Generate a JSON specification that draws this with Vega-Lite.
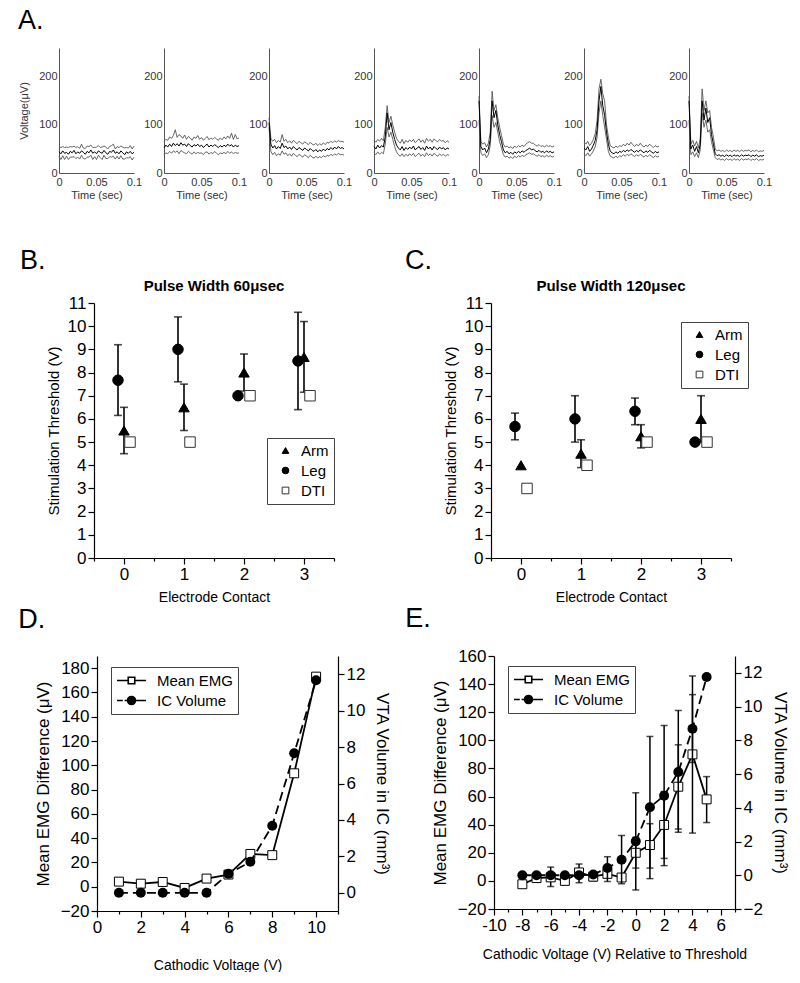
{
"$schema": "https://vega.github.io/schema/vega-lite/v6.json",
"background": "white",
"padding": {"left": 0, "top": 7, "right": 0, "bottom": 0},
"datasets": {
"emg": [
{"p":"-1V","t":0,"m":44,"h":54,"l":35},{"p":"-1V","t":0.0025,"m":40,"h":53,"l":28},{"p":"-1V","t":0.005,"m":46,"h":55,"l":36},{"p":"-1V","t":0.0075,"m":41,"h":53,"l":28},{"p":"-1V","t":0.01,"m":43,"h":54,"l":35},{"p":"-1V","t":0.0125,"m":39,"h":53,"l":28},{"p":"-1V","t":0.015,"m":45,"h":55,"l":33},{"p":"-1V","t":0.0175,"m":42,"h":54,"l":33},{"p":"-1V","t":0.02,"m":47,"h":56,"l":34},{"p":"-1V","t":0.0225,"m":40,"h":53,"l":30},{"p":"-1V","t":0.025,"m":44,"h":55,"l":33},{"p":"-1V","t":0.0275,"m":41,"h":51,"l":29},{"p":"-1V","t":0.03,"m":46,"h":60,"l":37},{"p":"-1V","t":0.0325,"m":43,"h":52,"l":30},{"p":"-1V","t":0.035,"m":39,"h":51,"l":29},{"p":"-1V","t":0.0375,"m":45,"h":56,"l":33},{"p":"-1V","t":0.04,"m":42,"h":55,"l":33},{"p":"-1V","t":0.0425,"m":48,"h":58,"l":37},{"p":"-1V","t":0.045,"m":41,"h":53,"l":28},{"p":"-1V","t":0.0475,"m":44,"h":53,"l":34},{"p":"-1V","t":0.05,"m":40,"h":54,"l":28},{"p":"-1V","t":0.0525,"m":46,"h":57,"l":37},{"p":"-1V","t":0.055,"m":43,"h":53,"l":32},{"p":"-1V","t":0.0575,"m":41,"h":54,"l":28},{"p":"-1V","t":0.06,"m":47,"h":56,"l":37},{"p":"-1V","t":0.0625,"m":42,"h":54,"l":30},{"p":"-1V","t":0.065,"m":39,"h":50,"l":30},{"p":"-1V","t":0.0675,"m":45,"h":55,"l":34},{"p":"-1V","t":0.07,"m":43,"h":57,"l":33},{"p":"-1V","t":0.0725,"m":48,"h":60,"l":35},{"p":"-1V","t":0.075,"m":41,"h":50,"l":29},{"p":"-1V","t":0.0775,"m":44,"h":55,"l":35},{"p":"-1V","t":0.08,"m":40,"h":53,"l":29},{"p":"-1V","t":0.0825,"m":46,"h":56,"l":36},{"p":"-1V","t":0.085,"m":42,"h":54,"l":29},{"p":"-1V","t":0.0875,"m":38,"h":52,"l":29},{"p":"-1V","t":0.09,"m":44,"h":53,"l":32},{"p":"-1V","t":0.0925,"m":41,"h":52,"l":31},{"p":"-1V","t":0.095,"m":45,"h":57,"l":34},{"p":"-1V","t":0.0975,"m":40,"h":50,"l":27},{"p":"-1V","t":0.1,"m":43,"h":56,"l":33},
{"p":"-2V","t":0,"m":52,"h":66,"l":38},{"p":"-2V","t":0.0025,"m":58,"h":70,"l":42},{"p":"-2V","t":0.005,"m":54,"h":68,"l":40},{"p":"-2V","t":0.0075,"m":60,"h":75,"l":45},{"p":"-2V","t":0.01,"m":55,"h":72,"l":41},{"p":"-2V","t":0.0125,"m":62,"h":78,"l":46},{"p":"-2V","t":0.015,"m":57,"h":90,"l":43},{"p":"-2V","t":0.0175,"m":61,"h":74,"l":46},{"p":"-2V","t":0.02,"m":56,"h":80,"l":40},{"p":"-2V","t":0.0225,"m":63,"h":77,"l":47},{"p":"-2V","t":0.025,"m":58,"h":72,"l":44},{"p":"-2V","t":0.0275,"m":60,"h":79,"l":42},{"p":"-2V","t":0.03,"m":55,"h":70,"l":40},{"p":"-2V","t":0.0325,"m":61,"h":76,"l":45},{"p":"-2V","t":0.035,"m":57,"h":73,"l":42},{"p":"-2V","t":0.0375,"m":54,"h":68,"l":39},{"p":"-2V","t":0.04,"m":59,"h":75,"l":44},{"p":"-2V","t":0.0425,"m":56,"h":72,"l":40},{"p":"-2V","t":0.045,"m":60,"h":78,"l":43},{"p":"-2V","t":0.0475,"m":55,"h":70,"l":41},{"p":"-2V","t":0.05,"m":58,"h":74,"l":42},{"p":"-2V","t":0.0525,"m":53,"h":68,"l":38},{"p":"-2V","t":0.055,"m":57,"h":72,"l":43},{"p":"-2V","t":0.0575,"m":60,"h":76,"l":44},{"p":"-2V","t":0.06,"m":54,"h":69,"l":39},{"p":"-2V","t":0.0625,"m":58,"h":73,"l":43},{"p":"-2V","t":0.065,"m":55,"h":70,"l":40},{"p":"-2V","t":0.0675,"m":59,"h":74,"l":45},{"p":"-2V","t":0.07,"m":56,"h":71,"l":41},{"p":"-2V","t":0.0725,"m":53,"h":68,"l":38},{"p":"-2V","t":0.075,"m":57,"h":73,"l":42},{"p":"-2V","t":0.0775,"m":54,"h":69,"l":40},{"p":"-2V","t":0.08,"m":58,"h":75,"l":43},{"p":"-2V","t":0.0825,"m":55,"h":71,"l":40},{"p":"-2V","t":0.085,"m":60,"h":77,"l":45},{"p":"-2V","t":0.0875,"m":56,"h":72,"l":41},{"p":"-2V","t":0.09,"m":59,"h":83,"l":44},{"p":"-2V","t":0.0925,"m":54,"h":70,"l":40},{"p":"-2V","t":0.095,"m":58,"h":80,"l":43},{"p":"-2V","t":0.0975,"m":55,"h":71,"l":41},{"p":"-2V","t":0.1,"m":57,"h":73,"l":42},
{"p":"-3V","t":0,"m":105,"h":115,"l":95},{"p":"-3V","t":0.0025,"m":60,"h":72,"l":45},{"p":"-3V","t":0.005,"m":52,"h":66,"l":38},{"p":"-3V","t":0.0075,"m":57,"h":70,"l":43},{"p":"-3V","t":0.01,"m":50,"h":63,"l":36},{"p":"-3V","t":0.0125,"m":55,"h":68,"l":40},{"p":"-3V","t":0.015,"m":51,"h":64,"l":37},{"p":"-3V","t":0.0175,"m":62,"h":80,"l":46},{"p":"-3V","t":0.02,"m":53,"h":66,"l":39},{"p":"-3V","t":0.0225,"m":56,"h":70,"l":42},{"p":"-3V","t":0.025,"m":50,"h":63,"l":36},{"p":"-3V","t":0.0275,"m":54,"h":67,"l":40},{"p":"-3V","t":0.03,"m":49,"h":62,"l":35},{"p":"-3V","t":0.0325,"m":55,"h":68,"l":41},{"p":"-3V","t":0.035,"m":51,"h":64,"l":37},{"p":"-3V","t":0.0375,"m":48,"h":61,"l":34},{"p":"-3V","t":0.04,"m":53,"h":66,"l":39},{"p":"-3V","t":0.0425,"m":50,"h":63,"l":36},{"p":"-3V","t":0.045,"m":47,"h":60,"l":33},{"p":"-3V","t":0.0475,"m":52,"h":65,"l":38},{"p":"-3V","t":0.05,"m":49,"h":62,"l":35},{"p":"-3V","t":0.0525,"m":46,"h":59,"l":32},{"p":"-3V","t":0.055,"m":51,"h":64,"l":37},{"p":"-3V","t":0.0575,"m":47,"h":60,"l":33},{"p":"-3V","t":0.06,"m":45,"h":58,"l":31},{"p":"-3V","t":0.0625,"m":49,"h":62,"l":35},{"p":"-3V","t":0.065,"m":44,"h":57,"l":31},{"p":"-3V","t":0.0675,"m":48,"h":61,"l":34},{"p":"-3V","t":0.07,"m":45,"h":58,"l":32},{"p":"-3V","t":0.0725,"m":50,"h":63,"l":36},{"p":"-3V","t":0.075,"m":46,"h":59,"l":33},{"p":"-3V","t":0.0775,"m":51,"h":64,"l":37},{"p":"-3V","t":0.08,"m":48,"h":62,"l":35},{"p":"-3V","t":0.0825,"m":53,"h":66,"l":39},{"p":"-3V","t":0.085,"m":49,"h":63,"l":36},{"p":"-3V","t":0.0875,"m":54,"h":67,"l":40},{"p":"-3V","t":0.09,"m":50,"h":64,"l":37},{"p":"-3V","t":0.0925,"m":55,"h":68,"l":41},{"p":"-3V","t":0.095,"m":51,"h":65,"l":38},{"p":"-3V","t":0.0975,"m":53,"h":66,"l":39},{"p":"-3V","t":0.1,"m":50,"h":64,"l":37},
{"p":"-4V","t":0,"m":55,"h":68,"l":42},{"p":"-4V","t":0.0025,"m":50,"h":64,"l":38},{"p":"-4V","t":0.005,"m":58,"h":70,"l":44},{"p":"-4V","t":0.0075,"m":52,"h":66,"l":39},{"p":"-4V","t":0.01,"m":57,"h":72,"l":43},{"p":"-4V","t":0.0125,"m":54,"h":67,"l":40},{"p":"-4V","t":0.015,"m":75,"h":95,"l":60},{"p":"-4V","t":0.0175,"m":125,"h":140,"l":95},{"p":"-4V","t":0.02,"m":90,"h":105,"l":75},{"p":"-4V","t":0.0225,"m":105,"h":118,"l":85},{"p":"-4V","t":0.025,"m":85,"h":100,"l":70},{"p":"-4V","t":0.0275,"m":70,"h":85,"l":55},{"p":"-4V","t":0.03,"m":58,"h":72,"l":44},{"p":"-4V","t":0.0325,"m":52,"h":66,"l":38},{"p":"-4V","t":0.035,"m":48,"h":62,"l":35},{"p":"-4V","t":0.0375,"m":55,"h":70,"l":40},{"p":"-4V","t":0.04,"m":47,"h":61,"l":34},{"p":"-4V","t":0.0425,"m":53,"h":68,"l":39},{"p":"-4V","t":0.045,"m":49,"h":64,"l":35},{"p":"-4V","t":0.0475,"m":54,"h":69,"l":40},{"p":"-4V","t":0.05,"m":50,"h":65,"l":36},{"p":"-4V","t":0.0525,"m":56,"h":70,"l":41},{"p":"-4V","t":0.055,"m":48,"h":63,"l":34},{"p":"-4V","t":0.0575,"m":52,"h":67,"l":38},{"p":"-4V","t":0.06,"m":55,"h":71,"l":41},{"p":"-4V","t":0.0625,"m":49,"h":64,"l":35},{"p":"-4V","t":0.065,"m":53,"h":69,"l":39},{"p":"-4V","t":0.0675,"m":47,"h":62,"l":34},{"p":"-4V","t":0.07,"m":56,"h":72,"l":42},{"p":"-4V","t":0.0725,"m":50,"h":66,"l":36},{"p":"-4V","t":0.075,"m":54,"h":70,"l":40},{"p":"-4V","t":0.0775,"m":48,"h":64,"l":35},{"p":"-4V","t":0.08,"m":55,"h":71,"l":41},{"p":"-4V","t":0.0825,"m":51,"h":67,"l":37},{"p":"-4V","t":0.085,"m":49,"h":65,"l":35},{"p":"-4V","t":0.0875,"m":54,"h":70,"l":40},{"p":"-4V","t":0.09,"m":50,"h":66,"l":36},{"p":"-4V","t":0.0925,"m":53,"h":68,"l":39},{"p":"-4V","t":0.095,"m":48,"h":63,"l":35},{"p":"-4V","t":0.0975,"m":52,"h":67,"l":38},{"p":"-4V","t":0.1,"m":50,"h":64,"l":37},
{"p":"-5V","t":0,"m":150,"h":160,"l":110},{"p":"-5V","t":0.0025,"m":55,"h":65,"l":42},{"p":"-5V","t":0.005,"m":48,"h":60,"l":36},{"p":"-5V","t":0.0075,"m":52,"h":63,"l":40},{"p":"-5V","t":0.01,"m":42,"h":54,"l":32},{"p":"-5V","t":0.0125,"m":50,"h":62,"l":38},{"p":"-5V","t":0.015,"m":70,"h":85,"l":58},{"p":"-5V","t":0.0175,"m":150,"h":170,"l":120},{"p":"-5V","t":0.02,"m":115,"h":130,"l":95},{"p":"-5V","t":0.0225,"m":130,"h":142,"l":105},{"p":"-5V","t":0.025,"m":100,"h":115,"l":85},{"p":"-5V","t":0.0275,"m":80,"h":95,"l":65},{"p":"-5V","t":0.03,"m":65,"h":78,"l":52},{"p":"-5V","t":0.0325,"m":48,"h":60,"l":38},{"p":"-5V","t":0.035,"m":42,"h":54,"l":33},{"p":"-5V","t":0.0375,"m":45,"h":56,"l":35},{"p":"-5V","t":0.04,"m":40,"h":52,"l":31},{"p":"-5V","t":0.0425,"m":43,"h":55,"l":34},{"p":"-5V","t":0.045,"m":39,"h":51,"l":30},{"p":"-5V","t":0.0475,"m":44,"h":56,"l":35},{"p":"-5V","t":0.05,"m":41,"h":53,"l":32},{"p":"-5V","t":0.0525,"m":45,"h":57,"l":36},{"p":"-5V","t":0.055,"m":42,"h":54,"l":33},{"p":"-5V","t":0.0575,"m":46,"h":58,"l":37},{"p":"-5V","t":0.06,"m":43,"h":55,"l":34},{"p":"-5V","t":0.0625,"m":47,"h":60,"l":38},{"p":"-5V","t":0.065,"m":49,"h":63,"l":40},{"p":"-5V","t":0.0675,"m":52,"h":65,"l":42},{"p":"-5V","t":0.07,"m":48,"h":62,"l":39},{"p":"-5V","t":0.0725,"m":50,"h":62,"l":40},{"p":"-5V","t":0.075,"m":46,"h":58,"l":37},{"p":"-5V","t":0.0775,"m":44,"h":56,"l":35},{"p":"-5V","t":0.08,"m":47,"h":59,"l":38},{"p":"-5V","t":0.0825,"m":43,"h":55,"l":34},{"p":"-5V","t":0.085,"m":45,"h":57,"l":36},{"p":"-5V","t":0.0875,"m":42,"h":54,"l":33},{"p":"-5V","t":0.09,"m":46,"h":58,"l":37},{"p":"-5V","t":0.0925,"m":43,"h":55,"l":34},{"p":"-5V","t":0.095,"m":45,"h":57,"l":36},{"p":"-5V","t":0.0975,"m":42,"h":54,"l":33},{"p":"-5V","t":0.1,"m":44,"h":56,"l":35},
{"p":"-6V","t":0,"m":52,"h":64,"l":40},{"p":"-6V","t":0.0025,"m":48,"h":60,"l":36},{"p":"-6V","t":0.005,"m":55,"h":66,"l":42},{"p":"-6V","t":0.0075,"m":45,"h":57,"l":35},{"p":"-6V","t":0.01,"m":50,"h":62,"l":40},{"p":"-6V","t":0.0125,"m":58,"h":70,"l":46},{"p":"-6V","t":0.015,"m":68,"h":82,"l":55},{"p":"-6V","t":0.0175,"m":90,"h":110,"l":75},{"p":"-6V","t":0.02,"m":150,"h":175,"l":125},{"p":"-6V","t":0.0225,"m":180,"h":195,"l":150},{"p":"-6V","t":0.025,"m":140,"h":165,"l":120},{"p":"-6V","t":0.0275,"m":120,"h":150,"l":95},{"p":"-6V","t":0.03,"m":85,"h":100,"l":70},{"p":"-6V","t":0.0325,"m":60,"h":75,"l":45},{"p":"-6V","t":0.035,"m":45,"h":57,"l":35},{"p":"-6V","t":0.0375,"m":42,"h":54,"l":33},{"p":"-6V","t":0.04,"m":40,"h":52,"l":31},{"p":"-6V","t":0.0425,"m":44,"h":56,"l":35},{"p":"-6V","t":0.045,"m":41,"h":53,"l":32},{"p":"-6V","t":0.0475,"m":45,"h":57,"l":36},{"p":"-6V","t":0.05,"m":43,"h":55,"l":34},{"p":"-6V","t":0.0525,"m":47,"h":60,"l":38},{"p":"-6V","t":0.055,"m":44,"h":56,"l":35},{"p":"-6V","t":0.0575,"m":48,"h":62,"l":39},{"p":"-6V","t":0.06,"m":45,"h":58,"l":36},{"p":"-6V","t":0.0625,"m":49,"h":64,"l":40},{"p":"-6V","t":0.065,"m":46,"h":59,"l":37},{"p":"-6V","t":0.0675,"m":43,"h":55,"l":34},{"p":"-6V","t":0.07,"m":47,"h":60,"l":38},{"p":"-6V","t":0.0725,"m":44,"h":56,"l":35},{"p":"-6V","t":0.075,"m":48,"h":62,"l":39},{"p":"-6V","t":0.0775,"m":45,"h":57,"l":36},{"p":"-6V","t":0.08,"m":42,"h":54,"l":33},{"p":"-6V","t":0.0825,"m":46,"h":58,"l":37},{"p":"-6V","t":0.085,"m":43,"h":55,"l":34},{"p":"-6V","t":0.0875,"m":47,"h":60,"l":38},{"p":"-6V","t":0.09,"m":44,"h":56,"l":35},{"p":"-6V","t":0.0925,"m":41,"h":53,"l":32},{"p":"-6V","t":0.095,"m":45,"h":57,"l":36},{"p":"-6V","t":0.0975,"m":42,"h":54,"l":33},{"p":"-6V","t":0.1,"m":44,"h":56,"l":35},
{"p":"-7V","t":0,"m":150,"h":160,"l":110},{"p":"-7V","t":0.0025,"m":50,"h":60,"l":38},{"p":"-7V","t":0.005,"m":58,"h":68,"l":44},{"p":"-7V","t":0.0075,"m":45,"h":56,"l":34},{"p":"-7V","t":0.01,"m":55,"h":66,"l":42},{"p":"-7V","t":0.0125,"m":42,"h":52,"l":32},{"p":"-7V","t":0.015,"m":60,"h":72,"l":48},{"p":"-7V","t":0.0175,"m":150,"h":175,"l":125},{"p":"-7V","t":0.02,"m":110,"h":130,"l":95},{"p":"-7V","t":0.0225,"m":135,"h":150,"l":110},{"p":"-7V","t":0.025,"m":105,"h":125,"l":85},{"p":"-7V","t":0.0275,"m":115,"h":130,"l":90},{"p":"-7V","t":0.03,"m":80,"h":95,"l":65},{"p":"-7V","t":0.0325,"m":60,"h":75,"l":48},{"p":"-7V","t":0.035,"m":40,"h":50,"l":32},{"p":"-7V","t":0.0375,"m":36,"h":46,"l":28},{"p":"-7V","t":0.04,"m":38,"h":48,"l":30},{"p":"-7V","t":0.0425,"m":35,"h":45,"l":27},{"p":"-7V","t":0.045,"m":37,"h":47,"l":29},{"p":"-7V","t":0.0475,"m":34,"h":44,"l":26},{"p":"-7V","t":0.05,"m":38,"h":48,"l":30},{"p":"-7V","t":0.0525,"m":35,"h":45,"l":27},{"p":"-7V","t":0.055,"m":37,"h":47,"l":29},{"p":"-7V","t":0.0575,"m":34,"h":44,"l":26},{"p":"-7V","t":0.06,"m":38,"h":48,"l":30},{"p":"-7V","t":0.0625,"m":35,"h":45,"l":27},{"p":"-7V","t":0.065,"m":37,"h":47,"l":29},{"p":"-7V","t":0.0675,"m":34,"h":44,"l":26},{"p":"-7V","t":0.07,"m":38,"h":48,"l":30},{"p":"-7V","t":0.0725,"m":35,"h":45,"l":27},{"p":"-7V","t":0.075,"m":37,"h":47,"l":29},{"p":"-7V","t":0.0775,"m":36,"h":46,"l":28},{"p":"-7V","t":0.08,"m":38,"h":48,"l":30},{"p":"-7V","t":0.0825,"m":34,"h":44,"l":26},{"p":"-7V","t":0.085,"m":37,"h":47,"l":29},{"p":"-7V","t":0.0875,"m":35,"h":45,"l":27},{"p":"-7V","t":0.09,"m":38,"h":48,"l":30},{"p":"-7V","t":0.0925,"m":34,"h":44,"l":26},{"p":"-7V","t":0.095,"m":36,"h":46,"l":28},{"p":"-7V","t":0.0975,"m":35,"h":45,"l":27},{"p":"-7V","t":0.1,"m":37,"h":47,"l":29}
],
"thrB": [
{"type":"Arm","x":0,"v":5.5,"lo":4.5,"hi":6.5},{"type":"Arm","x":1,"v":6.5,"lo":5.5,"hi":7.5},{"type":"Arm","x":2,"v":8,"lo":7.2,"hi":8.8},{"type":"Arm","x":3,"v":8.67,"lo":7.15,"hi":10.2},
{"type":"Leg","x":-0.1,"v":7.67,"lo":6.15,"hi":9.2},{"type":"Leg","x":0.9,"v":9,"lo":7.6,"hi":10.4},{"type":"Leg","x":1.9,"v":7},{"type":"Leg","x":2.9,"v":8.5,"lo":6.4,"hi":10.6},
{"type":"DTI","x":0.1,"v":5},{"type":"DTI","x":1.1,"v":5},{"type":"DTI","x":2.1,"v":7},{"type":"DTI","x":3.1,"v":7}
],
"thrC": [
{"type":"Arm","x":0,"v":4},{"type":"Arm","x":1,"v":4.5,"lo":3.9,"hi":5.1},{"type":"Arm","x":2,"v":5.25,"lo":4.75,"hi":5.75},{"type":"Arm","x":3,"v":6,"lo":5,"hi":7},
{"type":"Leg","x":-0.1,"v":5.67,"lo":5.1,"hi":6.25},{"type":"Leg","x":0.9,"v":6,"lo":5,"hi":7},{"type":"Leg","x":1.9,"v":6.33,"lo":5.75,"hi":6.9},{"type":"Leg","x":2.9,"v":5},
{"type":"DTI","x":0.1,"v":3},{"type":"DTI","x":1.1,"v":4},{"type":"DTI","x":2.1,"v":5},{"type":"DTI","x":3.1,"v":5}
],
"dD": [
{"x":1,"emg":4.2,"ic":0},{"x":2,"emg":2.5,"ic":0},{"x":3,"emg":3.9,"ic":0},{"x":4,"emg":-1,"ic":0},{"x":5,"emg":6.7,"ic":0},{"x":6,"emg":10,"ic":1.04},{"x":7,"emg":27,"ic":1.7},{"x":8,"emg":26,"ic":3.68},{"x":9,"emg":93.4,"ic":7.66},{"x":10,"emg":173,"ic":11.67}
],
"dE": [
{"x":-8,"emg":-2.4,"ic":0},{"x":-7,"emg":2,"ic":0},{"x":-6,"emg":2.5,"elo":-4,"ehi":9.8,"ic":0},{"x":-5,"emg":0,"ic":0},{"x":-4,"emg":6,"elo":-1.3,"ehi":12,"ic":0},{"x":-3,"emg":3,"elo":0,"ehi":6,"ic":0.05},{"x":-2,"emg":5,"ic":0.43,"ilo":-0.37,"ihi":1.1},{"x":-1,"emg":2.4,"ic":0.92,"ilo":-0.5,"ihi":2.36},{"x":0,"emg":20,"elo":9.1,"ehi":31,"ic":2.01,"ilo":-0.87,"ihi":4.89},{"x":1,"emg":25.5,"elo":9.1,"ehi":40.7,"ic":4.03,"ilo":-0.2,"ihi":8.23},{"x":2,"emg":39.8,"elo":16,"ehi":63.6,"ic":4.72,"ilo":0.57,"ihi":8.88},{"x":3,"emg":67,"elo":36.9,"ehi":96.8,"ic":6.12,"ilo":2.55,"ihi":9.77},{"x":4,"emg":90,"elo":34,"ehi":145.8,"ic":8.69,"ilo":6.69,"ihi":10.71},{"x":5,"emg":58,"elo":41.5,"ehi":74.2,"ic":11.76}
]
},
"columns": 1,
"align": "none",
"spacing": 47,
"resolve": {"scale": {"shape": "independent", "fill": "independent", "stroke": "independent"}, "legend": {"shape": "independent", "fill": "independent", "stroke": "independent"}},
"concat": [
{
"title": {"text": "A.", "anchor": "start", "fontSize": 27, "offset": 13, "dx": 18},
"spacing": 1,
"hconcat": [
{"width":17,"height":10,"data":{"values":[]},"mark":"point"},
{"width":75,"height":125,"data":{"name":"emg"},"transform":[{"filter":"datum.p=='-1V'"}],
 "encoding":{"x":{"field":"t","type":"quantitative","scale":{"domain":[0,0.1]},"axis":{"values":[0,0.05,0.1],"format":"~g","title":"Time (sec)","ticks":false,"labelPadding":3,"titlePadding":2,"labelFont":"Liberation Sans","labelFontSize":11,"titleFontSize":11,"labelColor":"#333","titleColor":"#333","domainColor":"#555","domainWidth":1}}},
 "layer":[
 {"mark":{"type":"line","color":"#555","strokeWidth":0.9},"encoding":{"y":{"field":"h","type":"quantitative","title":"Voltage(μV)","scale":{"domain":[0,250]},"axis":{"values":[0,100,200],"ticks":false,"labelPadding":2,"titlePadding":9,"labelFont":"Liberation Sans","labelFontSize":11,"titleFontSize":11,"labelColor":"#333","titleColor":"#333","domainColor":"#555","domainWidth":1}}}},
 {"mark":{"type":"line","color":"#555","strokeWidth":0.9},"encoding":{"y":{"field":"l","type":"quantitative","title":"Voltage(μV)"}}},
 {"mark":{"type":"line","color":"#000","strokeWidth":1},"encoding":{"y":{"field":"m","type":"quantitative","title":"Voltage(μV)"}}},
 {"data":{"values":[{"p":"-1V"}]},"mark":{"type":"text","fontSize":11,"color":"#333","font":"Liberation Sans"},"encoding":{"x":{"datum":0.066},"y":{"datum":229},"text":{"field":"p"}}}
 ]},
{"width":75,"height":125,"data":{"name":"emg"},"transform":[{"filter":"datum.p=='-2V'"}],
 "encoding":{"x":{"field":"t","type":"quantitative","scale":{"domain":[0,0.1]},"axis":{"values":[0,0.05,0.1],"format":"~g","title":"Time (sec)","ticks":false,"labelPadding":3,"titlePadding":2,"labelFont":"Liberation Sans","labelFontSize":11,"titleFontSize":11,"labelColor":"#333","titleColor":"#333","domainColor":"#555","domainWidth":1}}},
 "layer":[
 {"mark":{"type":"line","color":"#555","strokeWidth":0.9},"encoding":{"y":{"field":"h","type":"quantitative","title":null,"scale":{"domain":[0,250]},"axis":{"values":[0,100,200],"ticks":false,"labelPadding":2,"labelFont":"Liberation Sans","labelFontSize":11,"labelColor":"#333","domainColor":"#555","domainWidth":1}}}},
 {"mark":{"type":"line","color":"#555","strokeWidth":0.9},"encoding":{"y":{"field":"l","type":"quantitative","title":null}}},
 {"mark":{"type":"line","color":"#000","strokeWidth":1},"encoding":{"y":{"field":"m","type":"quantitative","title":null}}},
 {"data":{"values":[{"p":"-2V"}]},"mark":{"type":"text","fontSize":11,"color":"#333","font":"Liberation Sans"},"encoding":{"x":{"datum":0.066},"y":{"datum":229},"text":{"field":"p"}}}
 ]},
{"width":75,"height":125,"data":{"name":"emg"},"transform":[{"filter":"datum.p=='-3V'"}],
 "encoding":{"x":{"field":"t","type":"quantitative","scale":{"domain":[0,0.1]},"axis":{"values":[0,0.05,0.1],"format":"~g","title":"Time (sec)","ticks":false,"labelPadding":3,"titlePadding":2,"labelFont":"Liberation Sans","labelFontSize":11,"titleFontSize":11,"labelColor":"#333","titleColor":"#333","domainColor":"#555","domainWidth":1}}},
 "layer":[
 {"mark":{"type":"line","color":"#555","strokeWidth":0.9},"encoding":{"y":{"field":"h","type":"quantitative","title":null,"scale":{"domain":[0,250]},"axis":{"values":[0,100,200],"ticks":false,"labelPadding":2,"labelFont":"Liberation Sans","labelFontSize":11,"labelColor":"#333","domainColor":"#555","domainWidth":1}}}},
 {"mark":{"type":"line","color":"#555","strokeWidth":0.9},"encoding":{"y":{"field":"l","type":"quantitative","title":null}}},
 {"mark":{"type":"line","color":"#000","strokeWidth":1},"encoding":{"y":{"field":"m","type":"quantitative","title":null}}},
 {"data":{"values":[{"p":"-3V"}]},"mark":{"type":"text","fontSize":11,"color":"#333","font":"Liberation Sans"},"encoding":{"x":{"datum":0.066},"y":{"datum":229},"text":{"field":"p"}}}
 ]},
{"width":75,"height":125,"data":{"name":"emg"},"transform":[{"filter":"datum.p=='-4V'"}],
 "encoding":{"x":{"field":"t","type":"quantitative","scale":{"domain":[0,0.1]},"axis":{"values":[0,0.05,0.1],"format":"~g","title":"Time (sec)","ticks":false,"labelPadding":3,"titlePadding":2,"labelFont":"Liberation Sans","labelFontSize":11,"titleFontSize":11,"labelColor":"#333","titleColor":"#333","domainColor":"#555","domainWidth":1}}},
 "layer":[
 {"mark":{"type":"line","color":"#555","strokeWidth":0.9},"encoding":{"y":{"field":"h","type":"quantitative","title":null,"scale":{"domain":[0,250]},"axis":{"values":[0,100,200],"ticks":false,"labelPadding":2,"labelFont":"Liberation Sans","labelFontSize":11,"labelColor":"#333","domainColor":"#555","domainWidth":1}}}},
 {"mark":{"type":"line","color":"#555","strokeWidth":0.9},"encoding":{"y":{"field":"l","type":"quantitative","title":null}}},
 {"mark":{"type":"line","color":"#000","strokeWidth":1},"encoding":{"y":{"field":"m","type":"quantitative","title":null}}},
 {"data":{"values":[{"p":"-4V"}]},"mark":{"type":"text","fontSize":11,"color":"#333","font":"Liberation Sans"},"encoding":{"x":{"datum":0.066},"y":{"datum":229},"text":{"field":"p"}}}
 ]},
{"width":75,"height":125,"data":{"name":"emg"},"transform":[{"filter":"datum.p=='-5V'"}],
 "encoding":{"x":{"field":"t","type":"quantitative","scale":{"domain":[0,0.1]},"axis":{"values":[0,0.05,0.1],"format":"~g","title":"Time (sec)","ticks":false,"labelPadding":3,"titlePadding":2,"labelFont":"Liberation Sans","labelFontSize":11,"titleFontSize":11,"labelColor":"#333","titleColor":"#333","domainColor":"#555","domainWidth":1}}},
 "layer":[
 {"mark":{"type":"line","color":"#555","strokeWidth":0.9},"encoding":{"y":{"field":"h","type":"quantitative","title":null,"scale":{"domain":[0,250]},"axis":{"values":[0,100,200],"ticks":false,"labelPadding":2,"labelFont":"Liberation Sans","labelFontSize":11,"labelColor":"#333","domainColor":"#555","domainWidth":1}}}},
 {"mark":{"type":"line","color":"#555","strokeWidth":0.9},"encoding":{"y":{"field":"l","type":"quantitative","title":null}}},
 {"mark":{"type":"line","color":"#000","strokeWidth":1},"encoding":{"y":{"field":"m","type":"quantitative","title":null}}},
 {"data":{"values":[{"p":"-5V"}]},"mark":{"type":"text","fontSize":11,"color":"#333","font":"Liberation Sans"},"encoding":{"x":{"datum":0.066},"y":{"datum":229},"text":{"field":"p"}}}
 ]},
{"width":75,"height":125,"data":{"name":"emg"},"transform":[{"filter":"datum.p=='-6V'"}],
 "encoding":{"x":{"field":"t","type":"quantitative","scale":{"domain":[0,0.1]},"axis":{"values":[0,0.05,0.1],"format":"~g","title":"Time (sec)","ticks":false,"labelPadding":3,"titlePadding":2,"labelFont":"Liberation Sans","labelFontSize":11,"titleFontSize":11,"labelColor":"#333","titleColor":"#333","domainColor":"#555","domainWidth":1}}},
 "layer":[
 {"mark":{"type":"line","color":"#555","strokeWidth":0.9},"encoding":{"y":{"field":"h","type":"quantitative","title":null,"scale":{"domain":[0,250]},"axis":{"values":[0,100,200],"ticks":false,"labelPadding":2,"labelFont":"Liberation Sans","labelFontSize":11,"labelColor":"#333","domainColor":"#555","domainWidth":1}}}},
 {"mark":{"type":"line","color":"#555","strokeWidth":0.9},"encoding":{"y":{"field":"l","type":"quantitative","title":null}}},
 {"mark":{"type":"line","color":"#000","strokeWidth":1},"encoding":{"y":{"field":"m","type":"quantitative","title":null}}},
 {"data":{"values":[{"p":"-6V"}]},"mark":{"type":"text","fontSize":11,"color":"#333","font":"Liberation Sans"},"encoding":{"x":{"datum":0.066},"y":{"datum":229},"text":{"field":"p"}}}
 ]},
{"width":75,"height":125,"data":{"name":"emg"},"transform":[{"filter":"datum.p=='-7V'"}],
 "encoding":{"x":{"field":"t","type":"quantitative","scale":{"domain":[0,0.1]},"axis":{"values":[0,0.05,0.1],"format":"~g","title":"Time (sec)","ticks":false,"labelPadding":3,"titlePadding":2,"labelFont":"Liberation Sans","labelFontSize":11,"titleFontSize":11,"labelColor":"#333","titleColor":"#333","domainColor":"#555","domainWidth":1}}},
 "layer":[
 {"mark":{"type":"line","color":"#555","strokeWidth":0.9},"encoding":{"y":{"field":"h","type":"quantitative","title":null,"scale":{"domain":[0,250]},"axis":{"values":[0,100,200],"ticks":false,"labelPadding":2,"labelFont":"Liberation Sans","labelFontSize":11,"labelColor":"#333","domainColor":"#555","domainWidth":1}}}},
 {"mark":{"type":"line","color":"#555","strokeWidth":0.9},"encoding":{"y":{"field":"l","type":"quantitative","title":null}}},
 {"mark":{"type":"line","color":"#000","strokeWidth":1},"encoding":{"y":{"field":"m","type":"quantitative","title":null}}},
 {"data":{"values":[{"p":"-7V"}]},"mark":{"type":"text","fontSize":11,"color":"#333","font":"Liberation Sans"},"encoding":{"x":{"datum":0.066},"y":{"datum":229},"text":{"field":"p"}}}
 ]}
]
},
{
"columns": 1,
"align": "none",
"spacing": 1,
"resolve": {"scale": {"shape": "independent", "fill": "independent", "stroke": "independent"}, "legend": {"shape": "independent", "fill": "independent", "stroke": "independent"}},
"concat": [
{
"spacing": 0,
"resolve": {"scale": {"shape": "independent", "fill": "independent", "stroke": "independent"}, "legend": {"shape": "independent", "fill": "independent", "stroke": "independent"}},
"hconcat": [
{"width":20,"height":10,"data":{"values":[]},"mark":"point"},
{
"spacing": 70,
"resolve": {"scale": {"shape": "independent", "fill": "independent", "stroke": "independent"}, "legend": {"shape": "independent", "fill": "independent", "stroke": "independent"}},
"hconcat": [
{"title": {"text": "B.", "anchor": "start", "fontSize": 27, "dx": -26, "offset": 4},
 "vconcat": [
 {"width":240,"height":255,"data":{"name":"thrB"},
  "title":{"text":"Pulse Width 60μsec","fontSize":15,"fontWeight":"bold","offset":0},
  "encoding":{"x":{"field":"x","type":"quantitative","scale":{"domain":[-0.5,3.5]},"axis":{"values":[-0.5,0,0.5,1,1.5,2,2.5,3,3.5],"labelExpr":"datum.value % 1 ? '' : '' + datum.value","labelOverlap":false,"labelFontSize":17,"tickSize":{"condition":{"test":"datum.value % 1","value":3},"value":6},"title":"Electrode Contact","titleFontSize":14,"labelPadding":2,"titlePadding":8}}},
  "layer":[
   {"transform":[{"filter":"isValid(datum.lo)"}],"mark":{"type":"errorbar","ticks":{"size":8},"color":"black","thickness":1.6},"encoding":{"y":{"field":"lo","type":"quantitative","title":"Stimulation Threshold (V)","scale":{"domain":[0,11]},"axis":{"values":[0,1,2,3,4,5,6,7,8,9,10,11],"format":"d","labelOverlap":false,"labelFontSize":17,"tickSize":6,"titleFontSize":15,"labelPadding":2,"titlePadding":6}},"y2":{"field":"hi"}}},
   {"mark":{"type":"point","filled":true,"size":110,"opacity":1,"strokeWidth":1},
    "encoding":{"y":{"field":"v","type":"quantitative","title":"Stimulation Threshold (V)","scale":{"domain":[0,11]},"axis":{"values":[0,1,2,3,4,5,6,7,8,9,10,11],"format":"d","labelOverlap":false,"labelFontSize":17,"tickSize":6,"titleFontSize":15,"labelPadding":2,"titlePadding":6}},
     "shape":{"field":"type","type":"nominal","scale":{"domain":["Arm","Leg","DTI"],"range":["triangle-up","circle","square"]},"legend":{"title":null,"orient":"none","legendX":173,"legendY":135,"strokeColor":"#444","fillColor":"white","padding":5,"rowPadding":4,"symbolSize":45,"symbolOffset":6,"labelOffset":8,"labelFontSize":15,"symbolStrokeWidth":1}},
     "fill":{"field":"type","type":"nominal","scale":{"domain":["Arm","Leg","DTI"],"range":["black","black","white"]},"legend":{"title":null,"orient":"none","legendX":173,"legendY":135,"strokeColor":"#444","fillColor":"white","padding":5,"rowPadding":4,"symbolSize":45,"symbolOffset":6,"labelOffset":8,"labelFontSize":15,"symbolStrokeWidth":1}},
     "stroke":{"field":"type","type":"nominal","scale":{"domain":["Arm","Leg","DTI"],"range":["black","black","#333"]},"legend":{"title":null,"orient":"none","legendX":173,"legendY":135,"strokeColor":"#444","fillColor":"white","padding":5,"rowPadding":4,"symbolSize":45,"symbolOffset":6,"labelOffset":8,"labelFontSize":15,"symbolStrokeWidth":1}}}}
  ]}
 ]},
{"title": {"text": "C.", "anchor": "start", "fontSize": 27, "dx": -38, "offset": 4},
 "vconcat": [
 {"width":240,"height":255,"data":{"name":"thrC"},
  "title":{"text":"Pulse Width 120μsec","fontSize":15,"fontWeight":"bold","offset":0},
  "encoding":{"x":{"field":"x","type":"quantitative","scale":{"domain":[-0.5,3.5]},"axis":{"values":[-0.5,0,0.5,1,1.5,2,2.5,3,3.5],"labelExpr":"datum.value % 1 ? '' : '' + datum.value","labelOverlap":false,"labelFontSize":17,"tickSize":{"condition":{"test":"datum.value % 1","value":3},"value":6},"title":"Electrode Contact","titleFontSize":14,"labelPadding":2,"titlePadding":8}}},
  "layer":[
   {"transform":[{"filter":"isValid(datum.lo)"}],"mark":{"type":"errorbar","ticks":{"size":8},"color":"black","thickness":1.6},"encoding":{"y":{"field":"lo","type":"quantitative","title":"Stimulation Threshold (V)","scale":{"domain":[0,11]},"axis":{"values":[0,1,2,3,4,5,6,7,8,9,10,11],"format":"d","labelOverlap":false,"labelFontSize":17,"tickSize":6,"titleFontSize":15,"labelPadding":2,"titlePadding":6}},"y2":{"field":"hi"}}},
   {"mark":{"type":"point","filled":true,"size":110,"opacity":1,"strokeWidth":1},
    "encoding":{"y":{"field":"v","type":"quantitative","title":"Stimulation Threshold (V)","scale":{"domain":[0,11]},"axis":{"values":[0,1,2,3,4,5,6,7,8,9,10,11],"format":"d","labelOverlap":false,"labelFontSize":17,"tickSize":6,"titleFontSize":15,"labelPadding":2,"titlePadding":6}},
     "shape":{"field":"type","type":"nominal","scale":{"domain":["Arm","Leg","DTI"],"range":["triangle-up","circle","square"]},"legend":{"title":null,"orient":"none","legendX":190,"legendY":19,"strokeColor":"#444","fillColor":"white","padding":5,"rowPadding":4,"symbolSize":45,"symbolOffset":6,"labelOffset":8,"labelFontSize":15,"symbolStrokeWidth":1}},
     "fill":{"field":"type","type":"nominal","scale":{"domain":["Arm","Leg","DTI"],"range":["black","black","white"]},"legend":{"title":null,"orient":"none","legendX":190,"legendY":19,"strokeColor":"#444","fillColor":"white","padding":5,"rowPadding":4,"symbolSize":45,"symbolOffset":6,"labelOffset":8,"labelFontSize":15,"symbolStrokeWidth":1}},
     "stroke":{"field":"type","type":"nominal","scale":{"domain":["Arm","Leg","DTI"],"range":["black","black","#333"]},"legend":{"title":null,"orient":"none","legendX":190,"legendY":19,"strokeColor":"#444","fillColor":"white","padding":5,"rowPadding":4,"symbolSize":45,"symbolOffset":6,"labelOffset":8,"labelFontSize":15,"symbolStrokeWidth":1}}}}
  ]}
 ]}
]
}
]
},
{
"spacing": 0,
"resolve": {"scale": {"shape": "independent", "fill": "independent", "stroke": "independent"}, "legend": {"shape": "independent", "fill": "independent", "stroke": "independent"}},
"hconcat": [
{"width":18,"height":10,"data":{"values":[]},"mark":"point"},
{
"spacing": 14,
"resolve": {"scale": {"shape": "independent", "fill": "independent", "stroke": "independent"}, "legend": {"shape": "independent", "fill": "independent", "stroke": "independent"}},
"hconcat": [
 {"title": {"text": "D.", "anchor": "start", "frame": "bounds", "fontSize": 27, "dx": -16, "offset": 22},
  "width":241,"height":255,"data":{"name":"dD"},
  "encoding":{"x":{"field":"x","type":"quantitative","scale":{"domain":[0,11]},"axis":{"values":[0,1,2,3,4,5,6,7,8,9,10,11],"labelExpr":"datum.value % 2 ? '' : '' + datum.value","labelOverlap":false,"labelFontSize":17,"tickSize":{"condition":{"test":"datum.value % 2","value":3},"value":6},"title":"Cathodic Voltage (V)","titleFontSize":14,"labelPadding":2,"titlePadding":23}}},
  "layer":[
   {"layer":[
     {"mark":{"type":"line","color":"black","strokeWidth":1.8},"encoding":{"y":{"field":"emg","type":"quantitative","title":"Mean EMG Difference (μV)","scale":{"domain":[-20,190]},"axis":{"orient":"left","values":[-20,0,20,40,60,80,100,120,140,160,180],"format":"d","labelOverlap":false,"labelFontSize":17,"tickSize":6,"titleFontSize":17,"labelPadding":2,"titlePadding":8}}}},
     {"mark":{"type":"point","shape":"square","filled":true,"fill":"white","stroke":"black","strokeWidth":1,"size":80,"opacity":1},"encoding":{"y":{"field":"emg","type":"quantitative","title":"Mean EMG Difference (μV)","scale":{"domain":[-20,190]},"axis":{"orient":"left","values":[-20,0,20,40,60,80,100,120,140,160,180],"format":"d","labelOverlap":false,"labelFontSize":17,"tickSize":6,"titleFontSize":17,"labelPadding":2,"titlePadding":8}}}},
     {"transform":[{"filter":"false"}],"mark":{"type":"point","filled":true,"strokeWidth":1.6,"size":210,"opacity":1},
      "encoding":{"y":{"field":"emg","type":"quantitative","title":"Mean EMG Difference (μV)","scale":{"domain":[-20,190]},"axis":{"orient":"left","values":[-20,0,20,40,60,80,100,120,140,160,180],"format":"d","labelOverlap":false,"labelFontSize":17,"tickSize":6,"titleFontSize":17,"labelPadding":2,"titlePadding":8}},
       "shape":{"field":"s","type":"nominal","scale":{"domain":["Mean EMG","IC Volume"],"range":["M-2,0H-0.5M0.5,0H2M-0.45,-0.45H0.45V0.45H-0.45Z","M-2,0H-1.2M-0.95,0H-0.6M0.6,0H2M0.55,0A0.55 0.55 0 1 1 -0.55 0A0.55 0.55 0 1 1 0.55 0Z"]},"legend":{"title":null,"orient":"none","legendX":14,"legendY":11,"strokeColor":"#444","fillColor":"white","padding":5,"rowPadding":3,"symbolSize":210,"symbolOffset":7,"labelOffset":17,"labelFontSize":15,"symbolStrokeWidth":1.6}},
       "fill":{"field":"s","type":"nominal","scale":{"domain":["Mean EMG","IC Volume"],"range":["white","black"]},"legend":{"title":null,"orient":"none","legendX":14,"legendY":11,"strokeColor":"#444","fillColor":"white","padding":5,"rowPadding":3,"symbolSize":210,"symbolOffset":7,"labelOffset":17,"labelFontSize":15,"symbolStrokeWidth":1.6}},
       "stroke":{"field":"s","type":"nominal","scale":{"domain":["Mean EMG","IC Volume"],"range":["black","black"]},"legend":{"title":null,"orient":"none","legendX":14,"legendY":11,"strokeColor":"#444","fillColor":"white","padding":5,"rowPadding":3,"symbolSize":210,"symbolOffset":7,"labelOffset":17,"labelFontSize":15,"symbolStrokeWidth":1.6}}}}
   ]},
   {"layer":[
     {"mark":{"type":"line","color":"black","strokeWidth":1.8,"strokeDash":[9,5]},"encoding":{"y":{"field":"ic","type":"quantitative","title":"VTA Volume in IC (mm³)","scale":{"domain":[-1,13]},"axis":{"orient":"right","values":[0,2,4,6,8,10,12],"format":"d","labelOverlap":false,"labelFontSize":17,"tickSize":6,"titleFontSize":17,"labelPadding":2,"titlePadding":8}}}},
     {"mark":{"type":"point","shape":"circle","filled":true,"color":"black","size":100,"opacity":1},"encoding":{"y":{"field":"ic","type":"quantitative","title":"VTA Volume in IC (mm³)","scale":{"domain":[-1,13]},"axis":{"orient":"right","values":[0,2,4,6,8,10,12],"format":"d","labelOverlap":false,"labelFontSize":17,"tickSize":6,"titleFontSize":17,"labelPadding":2,"titlePadding":8}}}}
   ]}
  ],
  "resolve":{"scale":{"y":"independent"}}},
 {"title": {"text": "E.", "anchor": "start", "frame": "bounds", "fontSize": 27, "dx": -26, "offset": 14},
  "width":241,"height":253,"data":{"name":"dE"},
  "encoding":{"x":{"field":"x","type":"quantitative","scale":{"domain":[-10,7]},"axis":{"values":[-10,-9,-8,-7,-6,-5,-4,-3,-2,-1,0,1,2,3,4,5,6,7],"labelExpr":"datum.value % 2 ? '' : '' + datum.value","labelOverlap":false,"labelFontSize":17,"tickSize":{"condition":{"test":"datum.value % 2","value":3},"value":6},"title":"Cathodic Voltage (V) Relative to Threshold","titleFontSize":14,"labelPadding":2,"titlePadding":14}}},
  "layer":[
   {"layer":[
     {"mark":{"type":"line","color":"black","strokeWidth":1.8},"encoding":{"y":{"field":"emg","type":"quantitative","title":"Mean EMG Difference (μV)","scale":{"domain":[-20,160]},"axis":{"orient":"left","values":[-20,0,20,40,60,80,100,120,140,160],"format":"d","labelOverlap":false,"labelFontSize":17,"tickSize":6,"titleFontSize":17,"labelPadding":2,"titlePadding":8}}}},
     {"transform":[{"filter":"isValid(datum.elo)"}],"mark":{"type":"errorbar","ticks":{"size":7},"color":"black","thickness":1.5},"encoding":{"y":{"field":"elo","type":"quantitative","title":"Mean EMG Difference (μV)","scale":{"domain":[-20,160]},"axis":{"orient":"left","values":[-20,0,20,40,60,80,100,120,140,160],"format":"d","labelOverlap":false,"labelFontSize":17,"tickSize":6,"titleFontSize":17,"labelPadding":2,"titlePadding":8}},"y2":{"field":"ehi"}}},
     {"mark":{"type":"point","shape":"square","filled":true,"fill":"white","stroke":"black","strokeWidth":1,"size":80,"opacity":1},"encoding":{"y":{"field":"emg","type":"quantitative","title":"Mean EMG Difference (μV)","scale":{"domain":[-20,160]},"axis":{"orient":"left","values":[-20,0,20,40,60,80,100,120,140,160],"format":"d","labelOverlap":false,"labelFontSize":17,"tickSize":6,"titleFontSize":17,"labelPadding":2,"titlePadding":8}}}},
     {"transform":[{"filter":"false"}],"mark":{"type":"point","filled":true,"strokeWidth":1.6,"size":210,"opacity":1},
      "encoding":{"y":{"field":"emg","type":"quantitative","title":"Mean EMG Difference (μV)","scale":{"domain":[-20,160]},"axis":{"orient":"left","values":[-20,0,20,40,60,80,100,120,140,160],"format":"d","labelOverlap":false,"labelFontSize":17,"tickSize":6,"titleFontSize":17,"labelPadding":2,"titlePadding":8}},
       "shape":{"field":"s","type":"nominal","scale":{"domain":["Mean EMG","IC Volume"],"range":["M-2,0H-0.5M0.5,0H2M-0.45,-0.45H0.45V0.45H-0.45Z","M-2,0H-1.2M-0.95,0H-0.6M0.6,0H2M0.55,0A0.55 0.55 0 1 1 -0.55 0A0.55 0.55 0 1 1 0.55 0Z"]},"legend":{"title":null,"orient":"none","legendX":14,"legendY":10,"strokeColor":"#444","fillColor":"white","padding":5,"rowPadding":3,"symbolSize":210,"symbolOffset":7,"labelOffset":17,"labelFontSize":15,"symbolStrokeWidth":1.6}},
       "fill":{"field":"s","type":"nominal","scale":{"domain":["Mean EMG","IC Volume"],"range":["white","black"]},"legend":{"title":null,"orient":"none","legendX":14,"legendY":10,"strokeColor":"#444","fillColor":"white","padding":5,"rowPadding":3,"symbolSize":210,"symbolOffset":7,"labelOffset":17,"labelFontSize":15,"symbolStrokeWidth":1.6}},
       "stroke":{"field":"s","type":"nominal","scale":{"domain":["Mean EMG","IC Volume"],"range":["black","black"]},"legend":{"title":null,"orient":"none","legendX":14,"legendY":10,"strokeColor":"#444","fillColor":"white","padding":5,"rowPadding":3,"symbolSize":210,"symbolOffset":7,"labelOffset":17,"labelFontSize":15,"symbolStrokeWidth":1.6}}}}
   ]},
   {"layer":[
     {"mark":{"type":"line","color":"black","strokeWidth":1.8,"strokeDash":[9,5]},"encoding":{"y":{"field":"ic","type":"quantitative","title":"VTA Volume in IC (mm³)","scale":{"domain":[-2,13]},"axis":{"orient":"right","values":[-2,0,2,4,6,8,10,12],"format":"d","labelOverlap":false,"labelFontSize":17,"tickSize":6,"titleFontSize":17,"labelPadding":2,"titlePadding":8}}}},
     {"transform":[{"filter":"isValid(datum.ilo)"}],"mark":{"type":"errorbar","ticks":{"size":7},"color":"black","thickness":1.5},"encoding":{"y":{"field":"ilo","type":"quantitative","title":"VTA Volume in IC (mm³)","scale":{"domain":[-2,13]},"axis":{"orient":"right","values":[-2,0,2,4,6,8,10,12],"format":"d","labelOverlap":false,"labelFontSize":17,"tickSize":6,"titleFontSize":17,"labelPadding":2,"titlePadding":8}},"y2":{"field":"ihi"}}},
     {"mark":{"type":"point","shape":"circle","filled":true,"color":"black","size":100,"opacity":1},"encoding":{"y":{"field":"ic","type":"quantitative","title":"VTA Volume in IC (mm³)","scale":{"domain":[-2,13]},"axis":{"orient":"right","values":[-2,0,2,4,6,8,10,12],"format":"d","labelOverlap":false,"labelFontSize":17,"tickSize":6,"titleFontSize":17,"labelPadding":2,"titlePadding":8}}}}
   ]}
  ],
  "resolve":{"scale":{"y":"independent"}}}
]
}
]
}
]
}
],
"config": {
 "view": {"stroke": null},
 "font": "Liberation Sans",
 "axis": {"grid": false, "domainColor": "black", "tickColor": "black", "labelColor": "black", "titleColor": "black", "labelFont": "Liberation Sans", "titleFont": "Liberation Sans", "titleFontWeight": "normal", "domainWidth": 1.2, "tickWidth": 1.2, "labelFlush": false, "labelOverlap": false},
 "legend": {"labelFont": "Liberation Sans", "labelColor": "black"},
 "title": {"color": "black", "font": "Liberation Sans", "fontWeight": "normal"}
}
}
